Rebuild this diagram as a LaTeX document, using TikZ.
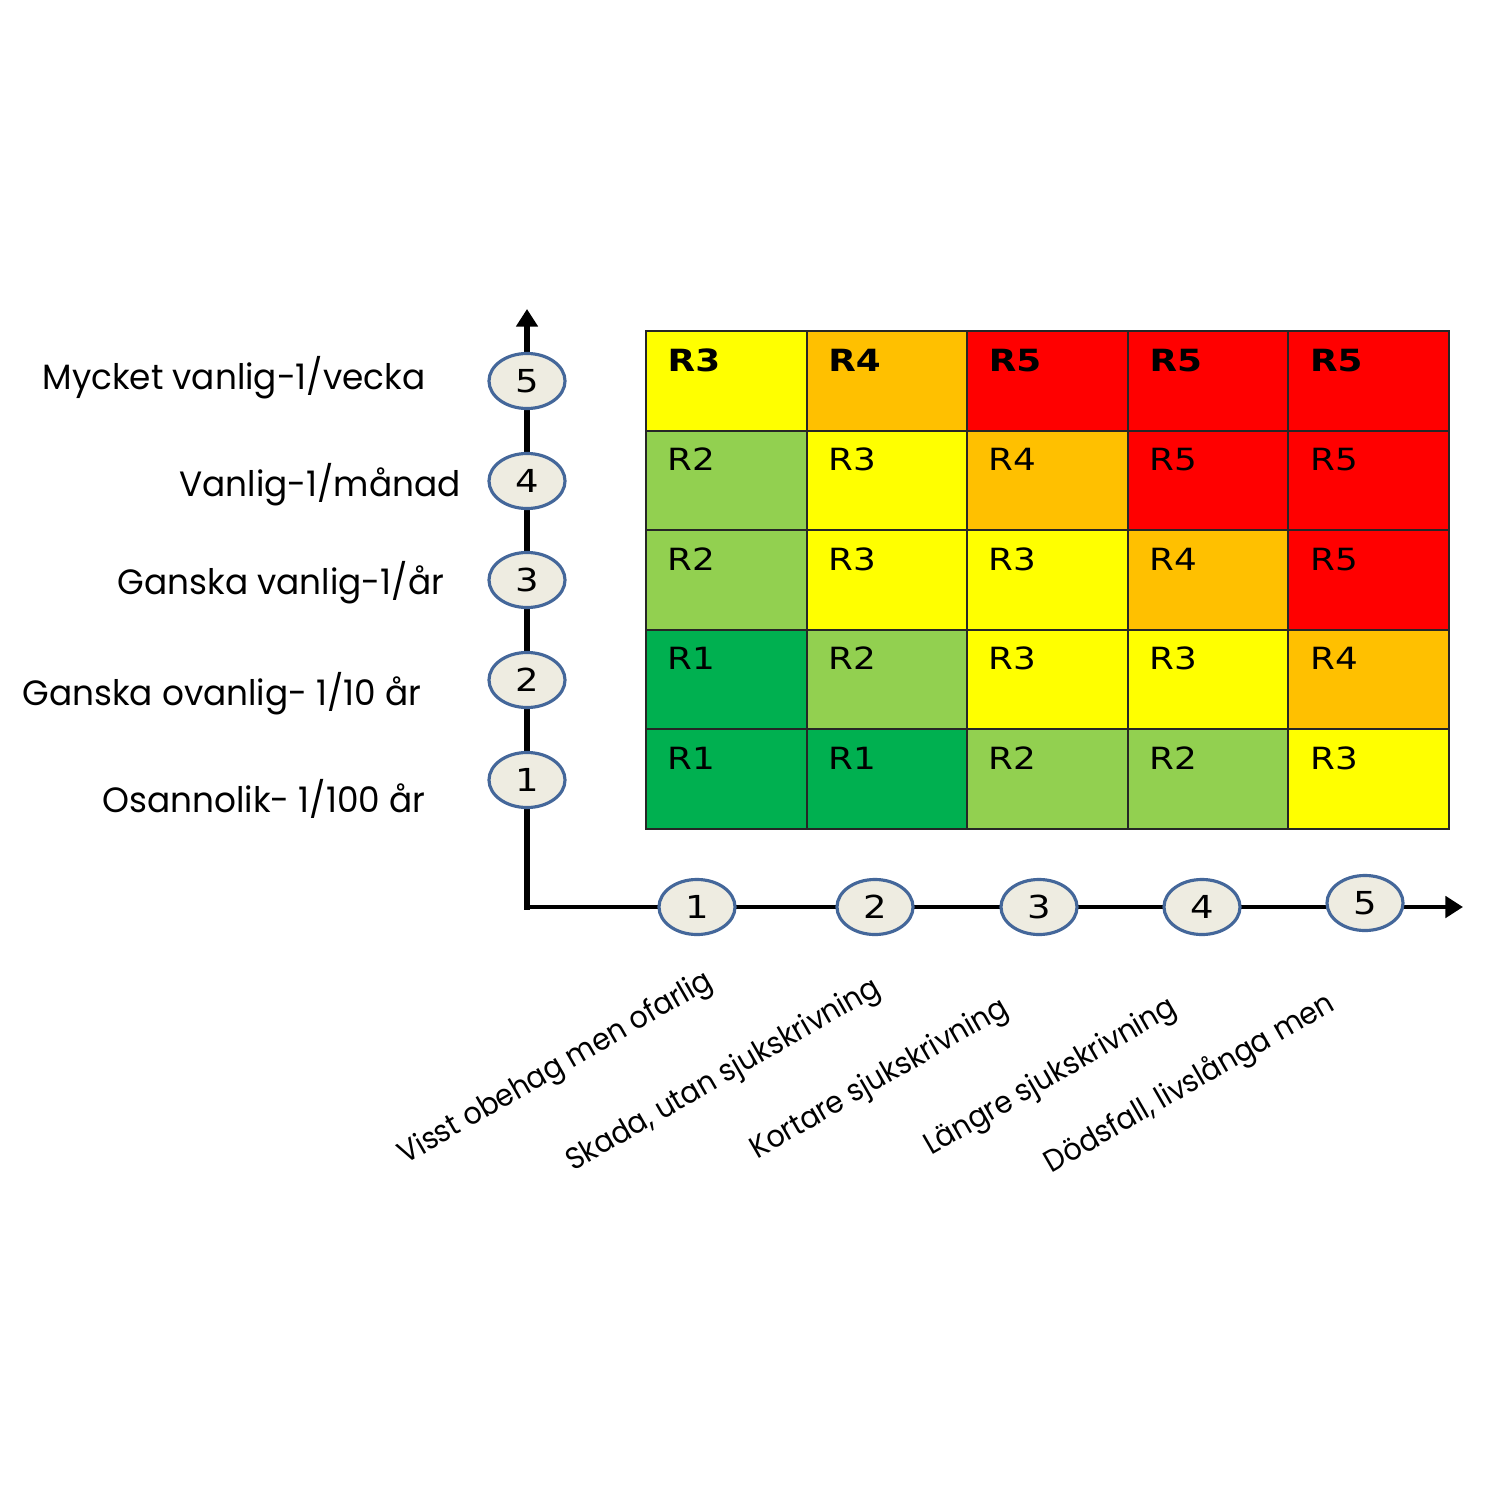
\documentclass[tikz,border=0pt]{standalone}
\usepackage{fontspec}
\setmainfont{DejaVu Sans}
\newfontfamily\cellfont[FakeStretch=1.17]{DejaVu Sans}
\newfontfamily\popfont[FakeStretch=0.975]{Poppins}
\newfontfamily\poprot[FakeStretch=0.93]{Poppins}
\usetikzlibrary{arrows.meta,shapes.geometric}
\definecolor{cY}{HTML}{FFFF00}
\definecolor{cO}{HTML}{FFC000}
\definecolor{cR}{HTML}{FF0000}
\definecolor{cL}{HTML}{92D050}
\definecolor{cG}{HTML}{00B050}
\definecolor{ellfill}{HTML}{EEECE1}
\definecolor{ellline}{HTML}{44679A}
\tikzset{
  cellbox/.style={draw=black!85, line width=0.6pt, anchor=north west, minimum width=1.606cm, minimum height=0.996cm, inner sep=0pt, outer sep=0pt},
  celltext/.style={anchor=base west, inner sep=0pt, font=\cellfont\fontsize{8.7}{10}\selectfont},
  numell/.style={ellipse, draw=ellline, fill=ellfill, line width=0.9pt, minimum width=0.76cm, minimum height=0.55cm, inner sep=0pt, font=\cellfont\fontsize{9}{10}\selectfont},
  leftlab/.style={anchor=base, inner sep=0pt, font=\popfont\fontsize{10}{12}\selectfont},
  rotlab/.style={anchor=center, rotate=30, inner sep=0pt, font=\poprot\fontsize{8.7}{10}\selectfont},
  axis/.style={draw=black, -{Triangle[length=5pt,width=6pt]}}
}
\begin{document}
\begin{tikzpicture}[x=0.01cm,y=-0.01cm]
\useasboundingbox[fill=white] (0,0) rectangle (1500,1500);
% grid cells
\foreach \c/\r/\col in {
 1/5/cY, 2/5/cO, 3/5/cR, 4/5/cR, 5/5/cR,
 1/4/cL, 2/4/cY, 3/4/cO, 4/4/cR, 5/4/cR,
 1/3/cL, 2/3/cY, 3/3/cY, 4/3/cO, 5/3/cR,
 1/2/cG, 2/2/cL, 3/2/cY, 4/2/cY, 5/2/cO,
 1/1/cG, 2/1/cG, 3/1/cL, 4/1/cL, 5/1/cY}{
  \node[cellbox, fill=\col] (c\c\r) at ({646+(\c-1)*160.6},{331+(5-\r)*99.6}) {};
}
\foreach \c/\t in {1/R3,2/R4,3/R5,4/R5,5/R5}{
  \node[celltext, font=\cellfont\bfseries\fontsize{8.7}{10}\selectfont] (t\c5) at ({646+(\c-1)*160.6+21},{331+40}) {\t};
}
\foreach \c/\r/\t in {
 1/4/R2, 2/4/R3, 3/4/R4, 4/4/R5, 5/4/R5,
 1/3/R2, 2/3/R3, 3/3/R3, 4/3/R4, 5/3/R5,
 1/2/R1, 2/2/R2, 3/2/R3, 4/2/R3, 5/2/R4,
 1/1/R1, 2/1/R1, 3/1/R2, 4/1/R2, 5/1/R3}{
  \node[celltext] (t\c\r) at ({646+(\c-1)*160.6+21},{331+(5-\r)*99.6+40}) {\t};
}
% axes
\coordinate (origin) at (527,907);
\coordinate (ytip) at (527,309);
\coordinate (xtip) at (1463,907);
\draw[axis, line width=1.7pt] ([yshift=-0.8pt]origin) -- (ytip);
\draw[axis, line width=1.3pt] ([xshift=-0.85pt]origin) -- (xtip);
% vertical ellipses
\foreach \i/\y in {5/381,4/481,3/580,2/680,1/780}{
  \node[numell] (v\i) at (527,\y) {\i};
}
% horizontal ellipses
\foreach \i/\x/\y in {1/697/907,2/875/907,3/1039/907,4/1202/907,5/1365/903}{
  \node[numell] (h\i) at (\x,\y) {\i};
}
% left labels
\node[leftlab] (l5) at (234,389) {Mycket vanlig-1/vecka};
\node[leftlab] (l4) at (320,496) {Vanlig-1/månad};
\node[leftlab] (l3) at (281,594) {Ganska vanlig-1/år};
\node[leftlab] (l2) at (222,705) {Ganska ovanlig- 1/10 år};
\node[leftlab] (l1) at (264,812) {Osannolik- 1/100 år};
% rotated labels
\node[rotlab] (b1) at (556,1069) {Visst obehag men ofarlig};
\node[rotlab] (b2) at (724,1076) {Skada, utan sjukskrivning};
\node[rotlab] (b3) at (880,1080) {Kortare sjukskrivning};
\node[rotlab] (b4) at (1051,1078) {Längre sjukskrivning};
\node[rotlab] (b5) at (1190,1084) {Dödsfall, livslånga men};
\end{tikzpicture}
\end{document}
